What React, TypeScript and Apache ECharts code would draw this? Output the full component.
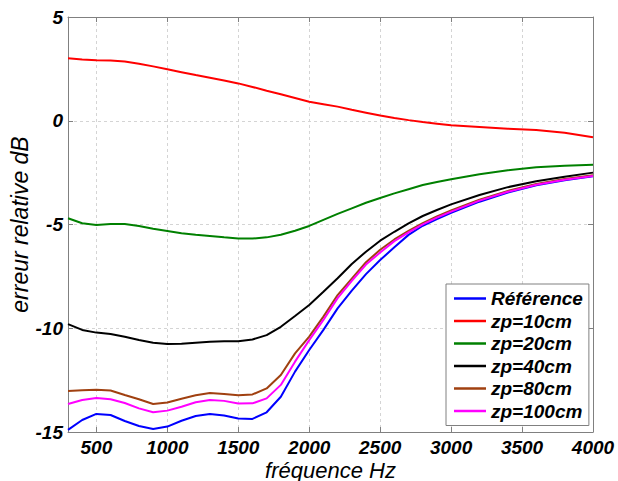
import React, { useEffect, useRef } from "react";
import * as echarts from "echarts";

const freqs = [300, 400, 500, 600, 700, 800, 900, 1000, 1100, 1200, 1300, 1400, 1500, 1600, 1700, 1800, 1900, 2000, 2100, 2200, 2300, 2400, 2500, 2600, 2700, 2800, 2900, 3000, 3200, 3400, 3600, 3800, 4000];

const reference = [-14.9, -14.42, -14.13, -14.18, -14.47, -14.71, -14.86, -14.74, -14.46, -14.23, -14.13, -14.2, -14.35, -14.37, -14.05, -13.3, -12.09, -11.05, -10.08, -9.04, -8.19, -7.39, -6.71, -6.1, -5.5, -5.06, -4.74, -4.44, -3.9, -3.46, -3.11, -2.87, -2.68];
const zp10 = [3.01, 2.95, 2.91, 2.9, 2.85, 2.75, 2.62, 2.48, 2.34, 2.2, 2.07, 1.94, 1.8, 1.63, 1.45, 1.28, 1.1, 0.92, 0.8, 0.68, 0.53, 0.39, 0.25, 0.13, 0.03, -0.06, -0.14, -0.22, -0.3, -0.38, -0.45, -0.58, -0.8];
const zp20 = [-4.7, -4.94, -5.02, -4.98, -4.98, -5.07, -5.2, -5.31, -5.42, -5.49, -5.55, -5.62, -5.67, -5.68, -5.62, -5.49, -5.3, -5.07, -4.78, -4.49, -4.22, -3.95, -3.72, -3.5, -3.3, -3.1, -2.95, -2.82, -2.58, -2.39, -2.24, -2.17, -2.12];
const zp40 = [-9.8, -10.08, -10.21, -10.28, -10.41, -10.57, -10.7, -10.76, -10.75, -10.7, -10.65, -10.63, -10.63, -10.54, -10.33, -9.93, -9.41, -8.88, -8.24, -7.59, -6.9, -6.31, -5.78, -5.35, -4.95, -4.59, -4.3, -4.03, -3.58, -3.2, -2.92, -2.7, -2.5];
const zp80 = [-13.02, -12.99, -12.96, -13.0, -13.22, -13.42, -13.65, -13.58, -13.4, -13.23, -13.12, -13.17, -13.23, -13.19, -12.9, -12.25, -11.21, -10.4, -9.44, -8.4, -7.61, -6.82, -6.22, -5.72, -5.31, -4.93, -4.61, -4.32, -3.8, -3.38, -3.05, -2.81, -2.63];
const zp100 = [-13.65, -13.46, -13.36, -13.42, -13.6, -13.86, -14.05, -13.97, -13.78, -13.57, -13.46, -13.5, -13.63, -13.62, -13.38, -12.73, -11.61, -10.57, -9.6, -8.55, -7.72, -6.93, -6.35, -5.8, -5.38, -4.99, -4.67, -4.38, -3.85, -3.42, -3.08, -2.84, -2.66];

const seriesNames = ["Référence", "zp=10cm", "zp=20cm", "zp=40cm", "zp=80cm", "zp=100cm"];
const seriesValues = [reference, zp10, zp20, zp40, zp80, zp100];
const seriesColors = ["#0000ff", "#ff0000", "#008000", "#000000", "#a04010", "#ff00ff"];

const xTicks = [500, 1000, 1500, 2000, 2500, 3000, 3500, 4000];
const xMin = 300;
const xMax = 4000;
const yMin = -15;
const yMax = 5;
const yStep = 5;

const FONT = "'Liberation Sans', Arial, sans-serif";
const FRAME = "#808080";

export default function App() {
  const ref = useRef<HTMLDivElement>(null);

  useEffect(() => {
    if (!ref.current) return;
    const chart = echarts.init(ref.current, null, { renderer: "svg" });

    const tickLabel = {
      fontFamily: FONT,
      fontWeight: "bold" as const,
      fontStyle: "italic" as const,
      fontSize: 19,
      color: "#000",
    };
    const plain = (v: number) => String(v);

    const option = {
      animation: false,
      backgroundColor: "#fff",
      grid: { left: 68, right: 25, top: 17, bottom: 49, containLabel: false, outerBoundsMode: "none" },
      xAxis: [
        {
          type: "value",
          min: xMin,
          max: xMax,
          position: "bottom",
          name: "fréquence Hz",
          nameLocation: "middle",
          nameGap: 27,
          nameMoveOverlap: false,
          nameTextStyle: { fontFamily: FONT, fontStyle: "italic", fontSize: 22, lineHeight: 22, color: "#000" },
          axisLine: { show: true, onZero: false, lineStyle: { color: FRAME, width: 1 } },
          axisTick: { show: true, inside: true, length: 5, customValues: xTicks, lineStyle: { color: FRAME } },
          axisLabel: { ...tickLabel, lineHeight: 17, margin: 7, customValues: xTicks, formatter: plain },
          splitLine: { show: true, lineStyle: { color: "#d4d4d4", type: [3, 3], width: 1 } },
        },
        {
          type: "value",
          min: xMin,
          max: xMax,
          position: "top",
          axisLine: { show: true, onZero: false, lineStyle: { color: FRAME, width: 1 } },
          axisTick: { show: true, inside: true, length: 5, customValues: xTicks, lineStyle: { color: FRAME } },
          axisLabel: { show: false },
          splitLine: { show: false },
        },
      ],
      yAxis: [
        {
          type: "value",
          min: yMin,
          max: yMax,
          interval: yStep,
          position: "left",
          name: "erreur relative dB",
          nameLocation: "middle",
          nameGap: 37,
          nameMoveOverlap: false,
          nameTextStyle: { fontFamily: FONT, fontStyle: "italic", fontSize: 23, color: "#000" },
          axisLine: { show: true, onZero: false, lineStyle: { color: FRAME, width: 1 } },
          axisTick: { show: true, inside: true, length: 5, lineStyle: { color: FRAME } },
          axisLabel: { ...tickLabel, margin: 5, formatter: plain },
          splitLine: { show: true, lineStyle: { color: "#d4d4d4", type: [3, 3], width: 1 } },
        },
        {
          type: "value",
          min: yMin,
          max: yMax,
          interval: yStep,
          position: "right",
          axisLine: { show: true, onZero: false, lineStyle: { color: FRAME, width: 1 } },
          axisTick: { show: true, inside: true, length: 5, lineStyle: { color: FRAME } },
          axisLabel: { show: false },
          splitLine: { show: false },
        },
      ],
      legend: {
        left: 446,
        top: 284,
        orient: "vertical",
        data: seriesNames,
        icon: "rect",
        itemWidth: 32,
        itemHeight: 2.5,
        itemGap: 3.5,
        padding: [5, 6, 5, 8],
        backgroundColor: "#fff",
        borderColor: FRAME,
        borderWidth: 1,
        borderRadius: 0,
        textStyle: { ...tickLabel, padding: [0, 0, 0, 0] },
      },
      series: seriesNames.map((name, i) => ({
        name,
        type: "line",
        xAxisIndex: 0,
        yAxisIndex: 0,
        showSymbol: false,
        symbol: "none",
        lineStyle: { color: seriesColors[i], width: 2 },
        itemStyle: { color: seriesColors[i] },
        data: freqs.map((f, j) => [f, seriesValues[i][j]]),
        z: 2 + i,
      })),
    };

    chart.setOption(option as any);
    return () => chart.dispose();
  }, []);

  return (
    <div
      ref={ref}
      style={{ position: "fixed", left: 0, top: 0, width: 618, height: 481, background: "#fff" }}
    />
  );
}
